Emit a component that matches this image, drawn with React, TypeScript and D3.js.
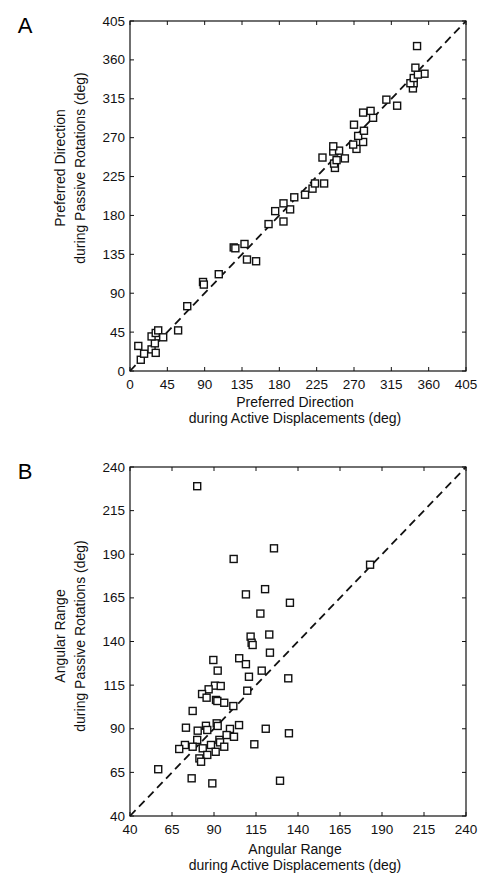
import React from "react";
import * as d3 from "d3";

// Panel A: preferred direction (deg)
const aTicks = [0, 45, 90, 135, 180, 225, 270, 315, 360, 405];
const aActive = [10, 13, 17, 26, 31, 30, 26, 31, 34, 40, 58, 69, 88, 89, 107, 125, 127, 138, 141, 152, 167, 185, 175, 193, 185, 198, 211, 220, 234, 223, 247, 246, 249, 259, 232, 245, 252, 245, 273, 281, 269, 275, 282, 270, 293, 290, 281, 322, 309, 341, 342, 338, 342, 355, 347, 344, 346];
const aPassive = [29, 13, 20, 25, 21, 32, 40, 44, 47, 39, 47, 75, 103, 100, 112, 143, 142, 147, 129, 127, 170, 173, 185, 187, 194, 201, 204, 211, 217, 217, 235, 240, 244, 246, 247, 254, 255, 260, 257, 265, 262, 272, 278, 285, 293, 301, 299, 307, 314, 327, 333, 333, 339, 344, 343, 351, 376];

// Panel B: angular range (deg)
const bTicks = [40, 65, 90, 115, 140, 165, 190, 215, 240];
const bActive = [80, 125.7, 101.7, 109, 120.4, 135.2, 117.6, 182.9, 111.8, 122.9, 112.4, 113, 105, 123.3, 109, 89.6, 92.2, 118.4, 110.8, 134.2, 90.6, 94, 86.8, 82.9, 109.8, 85.6, 91.2, 92, 96.1, 101.5, 77.3, 91.6, 92.2, 73.3, 85.2, 80.3, 86, 99.5, 104.9, 120.8, 134.6, 101.9, 97.5, 93.2, 80, 93.6, 96.1, 83.3, 88.2, 72.7, 69.3, 77.3, 91, 114, 86, 81.3, 82.3, 56.8, 76.7, 89, 129.3];
const bPassive = [229, 193.4, 187.3, 167, 170, 162.2, 156, 184, 142.8, 144, 139.3, 138, 130.4, 133.6, 127, 129.4, 123.3, 123.3, 119.8, 118.9, 114.7, 114.5, 112.6, 109.9, 111.8, 107.8, 106.5, 105.9, 104.9, 103, 100.2, 93.1, 91.6, 90.6, 91.7, 88.9, 89.3, 89.9, 92.1, 90, 87.4, 85.4, 86.4, 83.6, 83.6, 82.2, 79.7, 78.8, 80.7, 80.7, 78.4, 79.7, 76.8, 81.1, 75, 73, 71.1, 66.8, 61.6, 58.7, 60.2];

const FONT = "'Liberation Sans', Arial, Helvetica, sans-serif";

type PanelProps = {
  letter: string;
  ticks: number[];
  xs: number[];
  ys: number[];
  top: number;
  bottom: number;
  xTitle: string[];
  yTitle: string[];
  xTitleY: number[];
  yTitleCY: number;
};

function Panel({ letter, ticks, xs, ys, top, bottom, xTitle, yTitle, xTitleY, yTitleCY }: PanelProps) {
  const left = 130;
  const right = 466;
  const domain: [number, number] = [ticks[0], ticks[ticks.length - 1]];
  const x = d3.scaleLinear().domain(domain).range([left, right]);
  const y = d3.scaleLinear().domain(domain).range([bottom, top]);
  const tl = 4;
  const sq = 7;
  return (
    <g>
      <text x={25} y={top + 4} fontSize={22} fontFamily={FONT} textAnchor="middle" dominantBaseline="central">{letter}</text>
      <line x1={x(domain[0])} y1={y(domain[0])} x2={x(domain[1])} y2={y(domain[1])} stroke="#111" strokeWidth={1.8} strokeDasharray="8,5" />
      <rect x={left} y={top} width={right - left} height={bottom - top} fill="none" stroke="#111" strokeWidth={1.2} />
      {ticks.map((t, i) => (
        <g key={"t" + i}>
          <line x1={x(t)} x2={x(t)} y1={bottom} y2={bottom - tl} stroke="#111" strokeWidth={1} />
          <line x1={x(t)} x2={x(t)} y1={top} y2={top + tl} stroke="#111" strokeWidth={1} />
          <line x1={left} x2={left + tl} y1={y(t)} y2={y(t)} stroke="#111" strokeWidth={1} />
          <line x1={right} x2={right - tl} y1={y(t)} y2={y(t)} stroke="#111" strokeWidth={1} />
          <text x={x(t)} y={bottom + 13} fontSize={13.5} fontFamily={FONT} textAnchor="middle" dominantBaseline="central" fill="#111">{t}</text>
          <text x={left - 5} y={y(t)} fontSize={13.5} fontFamily={FONT} textAnchor="end" dominantBaseline="central" fill="#111">{t}</text>
        </g>
      ))}
      {xs.map((v, i) => (
        <rect key={"p" + i} x={x(v) - sq / 2} y={y(ys[i]) - sq / 2} width={sq} height={sq} fill="white" stroke="#111" strokeWidth={1.4} />
      ))}
      {xTitle.map((s, i) => (
        <text key={"xt" + i} x={(left + right) / 2 - 3} y={xTitleY[i]} fontSize={14} fontFamily={FONT} textAnchor="middle" dominantBaseline="central" fill="#111">{s}</text>
      ))}
      {yTitle.map((s, i) => (
        <text key={"yt" + i} transform={`translate(${60 + i * 20},${yTitleCY}) rotate(-90)`} fontSize={14} fontFamily={FONT} textAnchor="middle" dominantBaseline="central" fill="#111">{s}</text>
      ))}
    </g>
  );
}

export default function App() {
  return (
    <svg width={483} height={876} style={{ position: "absolute", left: 0, top: 0, background: "white" }}>
      <rect width={483} height={876} fill="white" />
      <Panel
        letter="A"
        ticks={aTicks}
        xs={aActive}
        ys={aPassive}
        top={21}
        bottom={371}
        xTitle={["Preferred Direction", "during Active Displacements (deg)"]}
        xTitleY={[402, 418]}
        yTitle={["Preferred Direction", "during Passive Rotations (deg)"]}
        yTitleCY={168}
      />
      <Panel
        letter="B"
        ticks={bTicks}
        xs={bActive}
        ys={bPassive}
        top={467}
        bottom={816}
        xTitle={["Angular Range", "during Active Displacements (deg)"]}
        xTitleY={[849, 865]}
        yTitle={["Angular Range", "during Passive Rotations (deg)"]}
        yTitleCY={636}
      />
    </svg>
  );
}
